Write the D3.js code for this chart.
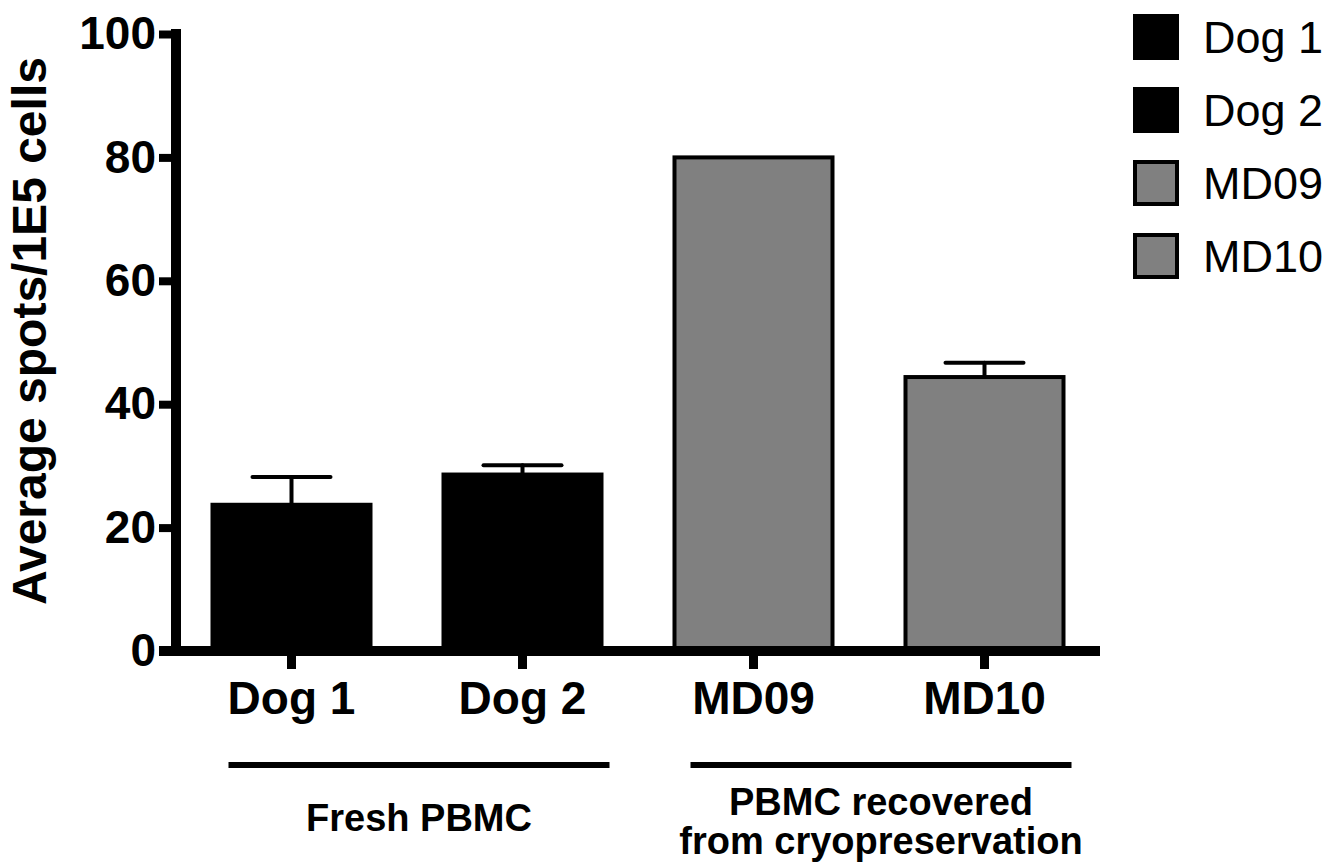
<!DOCTYPE html>
<html>
<head>
<meta charset="utf-8">
<script src="https://cdn.jsdelivr.net/npm/d3@7"></script>
<style>
  body { margin: 0; background: #fff; }
  svg { display: block; font-family: "Liberation Sans", Arial, sans-serif; }
</style>
</head>
<body>
<svg width="1341" height="863"></svg>
<script>
const categories = ['Dog 1', 'Dog 2', 'MD09', 'MD10'];
const means = [23.7, 28.6, 80, 44.4];
const errors = [4.5, 1.5, 0, 2.3];
const fills = ['#000000', '#000000', '#808080', '#808080'];
const yTicks = [0, 20, 40, 60, 80, 100];
const groups = [
  {members: ['Dog 1', 'Dog 2'], lines: ['Fresh PBMC']},
  {members: ['MD09', 'MD10'], lines: ['PBMC recovered', 'from cryopreservation']}
];

const width = 1341;
const height = 863;
const margin = ({top: 34, right: 241, bottom: 212, left: 176});

const svg = d3.select('svg');

const x = d3.scaleBand().domain(categories)
    .range([margin.left, width - margin.right])
    .paddingInner(0.316).paddingOuter(0.158);

const y = d3.scaleLinear().domain([0, 100])
    .range([height - margin.bottom, margin.top]);

const data = categories.map((c, i) => ({name: c, v: means[i], e: errors[i], fill: fills[i]}));

// bars
svg.append('g')
    .selectAll('rect')
    .data(data)
    .join('rect')
    .attr('x', d => x(d.name))
    .attr('y', d => y(d.v))
    .attr('width', x.bandwidth())
    .attr('height', d => y(0) - y(d.v))
    .attr('fill', d => d.fill)
    .attr('stroke', '#000')
    .attr('stroke-width', 4);

// error bars (upper only)
const eb = svg.append('g')
    .attr('stroke', '#000')
    .attr('stroke-width', 4)
    .attr('stroke-linecap', 'round')
    .selectAll('g')
    .data(data.filter(d => d.e > 0))
    .join('g');

eb.append('line')
    .attr('x1', d => x(d.name) + x.bandwidth() / 2)
    .attr('x2', d => x(d.name) + x.bandwidth() / 2)
    .attr('y1', d => y(d.v))
    .attr('y2', d => y(d.v + d.e));

eb.append('line')
    .attr('x1', d => x(d.name) + x.bandwidth() / 2 - 39)
    .attr('x2', d => x(d.name) + x.bandwidth() / 2 + 39)
    .attr('y1', d => y(d.v + d.e))
    .attr('y2', d => y(d.v + d.e));

// y axis
const yAxis = g => g.attr('transform', `translate(${margin.left},0)`)
    .call(d3.axisLeft(y).tickValues(yTicks).tickSize(17).tickSizeOuter(0).tickPadding(3))
    .call(g => g.select('.domain').remove())
    .call(g => g.selectAll('.tick line').attr('stroke', '#000').attr('stroke-width', 8))
    .call(g => g.selectAll('.tick text')
        .attr('fill', '#000')
        .attr('font-size', 46)
        .attr('font-weight', 'bold')
        .attr('font-family', '"Liberation Sans", Arial, sans-serif'));

svg.append('g').call(yAxis);

svg.append('line')
    .attr('x1', margin.left).attr('x2', margin.left)
    .attr('y1', y(100) - 5).attr('y2', y(0))
    .attr('stroke', '#000').attr('stroke-width', 10);

// x axis
const xAxis = g => g.attr('transform', `translate(0,${y(0)})`)
    .call(d3.axisBottom(x).tickSize(18).tickSizeOuter(0).tickPadding(0))
    .call(g => g.select('.domain').remove())
    .call(g => g.selectAll('.tick line').attr('stroke', '#000').attr('stroke-width', 9))
    .call(g => g.selectAll('.tick text')
        .attr('y', 63)
        .attr('dy', 0)
        .attr('fill', '#000')
        .attr('font-size', 46)
        .attr('font-weight', 'bold')
        .attr('font-family', '"Liberation Sans", Arial, sans-serif'));

svg.append('g').call(xAxis);

svg.append('line')
    .attr('x1', margin.left - 17).attr('x2', width - margin.right)
    .attr('y1', y(0)).attr('y2', y(0))
    .attr('stroke', '#000').attr('stroke-width', 10);

// y title
svg.append('text')
    .attr('transform', `translate(46,331) rotate(-90)`)
    .attr('text-anchor', 'middle')
    .attr('font-size', 48)
    .attr('font-weight', 'bold')
    .text('Average spots/1E5 cells');

// group brackets below the axis
const grp = svg.append('g')
    .selectAll('g')
    .data(groups)
    .join('g');

grp.append('line')
    .attr('x1', d => x(d.members[0]) + 16)
    .attr('x2', d => x(d.members[d.members.length - 1]) + x.bandwidth() + 8)
    .attr('y1', 765).attr('y2', 765)
    .attr('stroke', '#000').attr('stroke-width', 6);

grp.each(function(d) {
  const cx = (x(d.members[0]) + x(d.members[d.members.length - 1]) + x.bandwidth()) / 2 + 12;
  const base = d.lines.length === 1 ? [831] : [815, 854];
  d3.select(this).selectAll('text')
      .data(d.lines)
      .join('text')
      .attr('x', cx)
      .attr('y', (_, i) => base[i])
      .attr('text-anchor', 'middle')
      .attr('font-size', 38)
      .attr('font-weight', 'bold')
      .text(t => t);
});

// legend
const legend = svg.append('g')
    .selectAll('g')
    .data(data)
    .join('g')
    .attr('transform', (d, i) => `translate(1133,${37 + i * 73})`);

legend.append('rect')
    .attr('x', d => d.fill === '#000000' ? 0 : 2)
    .attr('y', d => d.fill === '#000000' ? -23 : -21)
    .attr('width', d => d.fill === '#000000' ? 46 : 42)
    .attr('height', d => d.fill === '#000000' ? 46 : 42)
    .attr('fill', d => d.fill)
    .attr('stroke', '#000')
    .attr('stroke-width', d => d.fill === '#000000' ? 0 : 4);

legend.append('text')
    .attr('x', 70)
    .attr('y', 16)
    .attr('font-size', 45)
    .text(d => d.name);
</script>
</body>
</html>
